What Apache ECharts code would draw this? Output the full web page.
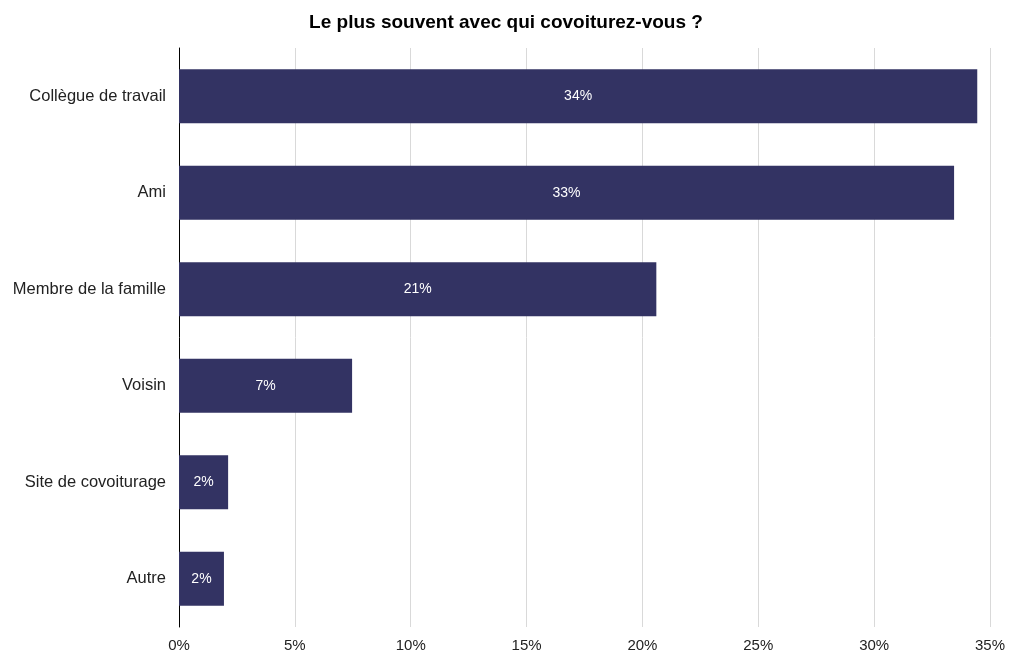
<!DOCTYPE html>
<html><head><meta charset="utf-8">
<script src="https://cdn.jsdelivr.net/npm/echarts@6/dist/echarts.min.js"></script>
<style>html,body{margin:0;padding:0;background:#fff}#c{width:1012px;height:657px}</style>
</head><body><div id="c"></div>
<script>
const categories = ['Collègue de travail','Ami','Membre de la famille','Voisin','Site de covoiturage','Autre'];
const values = [34.45, 33.45, 20.6, 7.47, 2.12, 1.94];
const xTicks = [0,5,10,15,20,25,30,35];

const chart = echarts.init(document.getElementById('c'));
chart.setOption({
  animation: false,
  textStyle: {fontFamily: 'Liberation Sans, Arial, sans-serif'},
  title: {text: 'Le plus souvent avec qui covoiturez-vous ?', left: 'center', top: 8,
    textStyle: {fontSize: 19, fontWeight: 'bold', color: '#000', fontFamily: 'Liberation Sans, Arial, sans-serif'}},
  grid: {left: 179, right: 22, top: 48, bottom: 30, containLabel: false},
  xAxis: {type: 'value', min: 0, max: 35, interval: 5,
    axisLine: {show: false}, axisTick: {show: false},
    splitLine: {lineStyle: {color: '#d9d9d9', width: 1}},
    axisLabel: {formatter: v => v + '%', fontSize: 15, color: '#222', margin: 11}},
  yAxis: {type: 'category', data: categories, inverse: true,
    axisLine: {lineStyle: {color: '#000', width: 1}}, axisTick: {show: false},
    axisLabel: {fontSize: 16.5, color: '#222', margin: 13}},
  series: [{type: 'bar', data: values, barWidth: '56%',
    itemStyle: {color: '#333363'},
    label: {show: true, position: 'inside', color: '#fff', fontSize: 14,
      formatter: p => Math.round(p.value) + '%'}}]
});
</script></body></html>
